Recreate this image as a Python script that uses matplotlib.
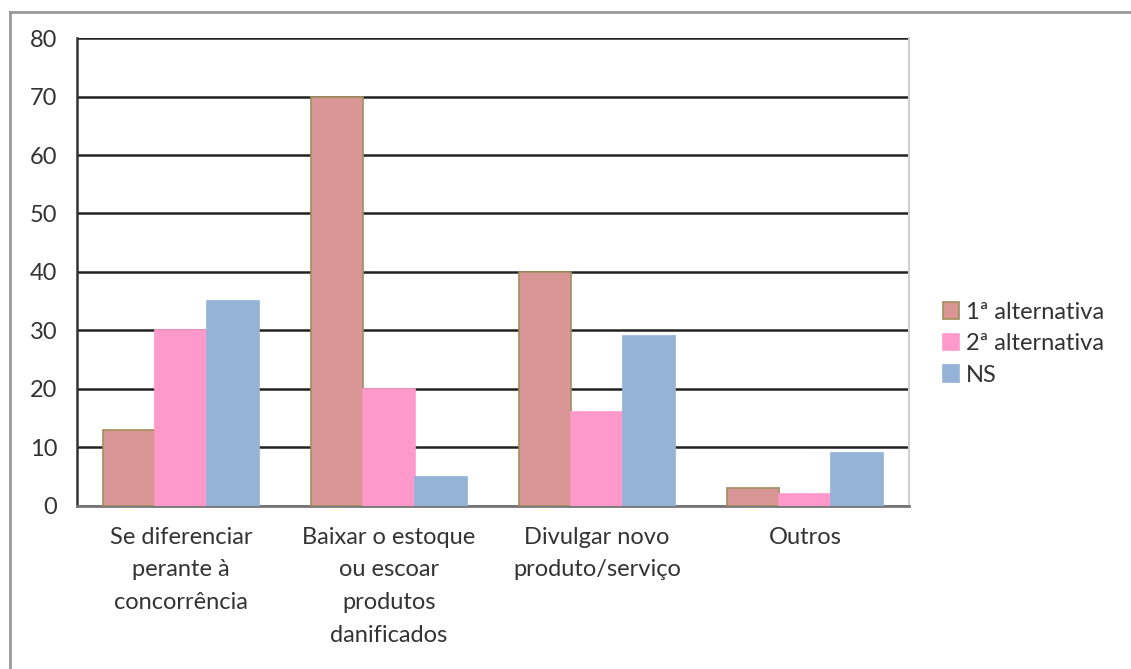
# -*- coding: utf-8 -*-

import numpy as np
import matplotlib.pyplot as plt
from matplotlib.lines import Line2D

# categorias e séries
categorias = ['Se diferenciar\nperante à\nconcorrência',
              'Baixar o estoque\nou escoar\nprodutos\ndanificados',
              'Divulgar novo\nproduto/serviço',
              'Outros']
alternativa_1 = [13, 70, 40, 3]
alternativa_2 = [30, 20, 16, 2]
ns = [35, 5, 29, 9]

series = [('1ª alternativa', alternativa_1, '#D99694', '#A08F5C'),
          ('2ª alternativa', alternativa_2, '#FF99CC', '#FF99CC'),
          ('NS', ns, '#95B3D7', '#95B3D7')]


def make_graph():
    plt.rcParams['font.family'] = ['Lato', 'DejaVu Sans']

    fig = plt.figure(figsize=(11.31, 6.69), dpi=100)
    ax = fig.add_axes([0.068, 0.244, 0.736, 0.699])

    x = np.arange(len(categorias))
    largura = 0.25

    for i, (nome, valores, cor, borda) in enumerate(series):
        ax.bar(x + (i - 1) * largura, valores, largura, color=cor,
               edgecolor=borda, linewidth=1.2, label=nome, zorder=3)

    ax.set_xlim(-0.5, len(categorias) - 0.5)
    ax.set_ylim(0, 80)
    ax.set_yticks(np.arange(0, 81, 10))
    ax.set_xticks(x)
    ax.set_xticklabels(categorias, linespacing=1.7)

    ax.yaxis.grid(True, color='#222222', linewidth=1.8, zorder=1)
    ax.set_axisbelow(True)

    ax.spines['top'].set_visible(False)
    ax.spines['left'].set_color('#333333')
    ax.spines['left'].set_linewidth(1.8)
    ax.spines['bottom'].set_color('#777777')
    ax.spines['bottom'].set_linewidth(2)
    ax.spines['right'].set_color('#d0d0d0')
    ax.spines['right'].set_linewidth(1.5)

    ax.tick_params(axis='y', length=0, pad=14, labelsize=17, labelcolor='#333333')
    ax.tick_params(axis='x', length=0, pad=15, labelsize=17, labelcolor='#333333')

    ax.legend(loc='center left', bbox_to_anchor=(0.825, 0.486),
              bbox_transform=fig.transFigure, frameon=False, fontsize=17,
              handlelength=0.7, handleheight=0.7, handletextpad=0.3,
              labelspacing=0.45, labelcolor='#333333', borderaxespad=0)

    # moldura externa do gráfico (só esquerda e topo)
    fig.add_artist(Line2D([0.0088, 0.0088], [0.0, 0.982], color='#999999',
                          linewidth=2, transform=fig.transFigure))
    fig.add_artist(Line2D([0.0088, 1.0], [0.982, 0.982], color='#999999',
                          linewidth=2, transform=fig.transFigure))

    fig.savefig('out.png', dpi=100, facecolor='white')


def main():
    make_graph()


if __name__ == '__main__':
    main()
